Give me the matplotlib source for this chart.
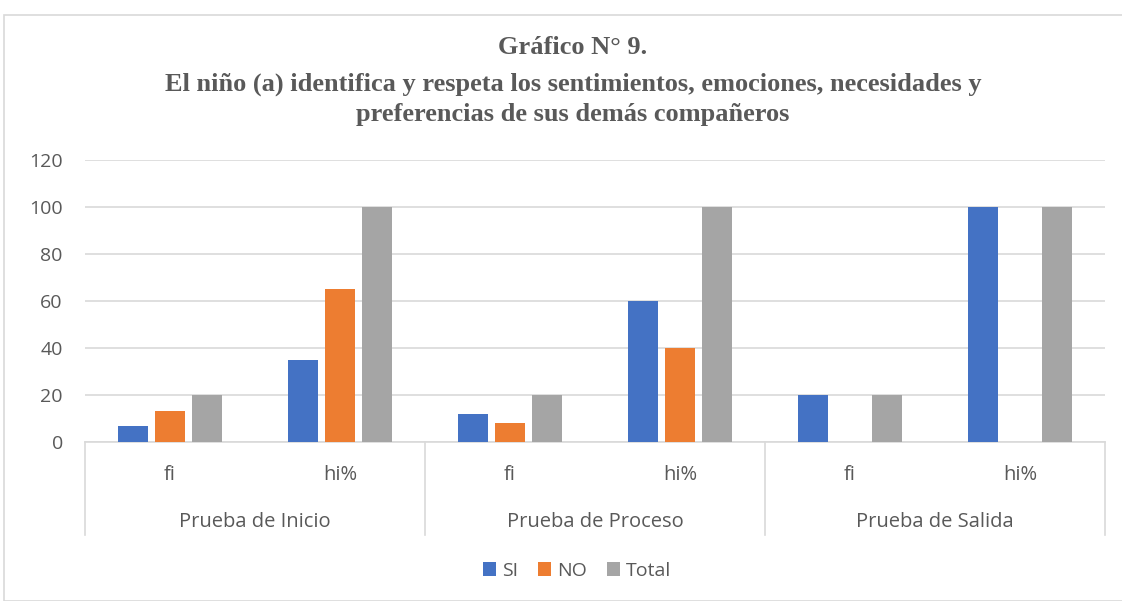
import matplotlib.pyplot as plt
from matplotlib.patches import Rectangle
import numpy as np

groups = ["Prueba de Inicio", "Prueba de Proceso", "Prueba de Salida"]
subcats = ["fi", "hi%"]
series = ["SI", "NO", "Total"]
si = [7, 35, 12, 60, 20, 100]
no = [13, 65, 8, 40, 0, 0]
total = [20, 100, 20, 100, 20, 100]
colors = ["#4472C4", "#ED7D31", "#A5A5A5"]

txt = "#595959"
grid = "#D9D9D9"
font = "Open Sans"
fs = 14.5

fig = plt.figure(figsize=(11.22, 6.01), dpi=100)
fig.patches.append(Rectangle((4 / 1122, 0), 1.0, 1 - 15 / 601, transform=fig.transFigure,
                             fill=False, edgecolor=grid, linewidth=1.2))

ax = fig.add_axes([85 / 1122, 1 - 442 / 601, 1020 / 1122, 282 / 601])
x = np.arange(len(si))
w = 0.176
off = 0.22
for i, (vals, name) in enumerate(zip([si, no, total], series)):
    ax.bar(x + (i - 1) * off, vals, w, color=colors[i], label=name, zorder=3)

ax.set_xlim(-0.5, len(si) - 0.5)
ax.set_ylim(0, 120)
ax.set_yticks(range(0, 121, 20))
ax.yaxis.grid(True, color=grid, linewidth=1.2, zorder=0)
for s in ["top", "right", "left"]:
    ax.spines[s].set_visible(False)
ax.spines["bottom"].set_color(grid)
ax.spines["bottom"].set_linewidth(1.2)
ax.tick_params(axis="y", length=0, labelsize=14, labelcolor=txt, pad=16)
ax.set_xticks([])
for lab in ax.get_yticklabels():
    lab.set_fontfamily(font)

# two-level category axis
for k in range(len(si)):
    ax.text(k, -14, subcats[k % 2], ha="center", va="center", fontsize=fs,
            color=txt, family=font, transform=ax.transData, clip_on=False)
for g, name in enumerate(groups):
    ax.text(2 * g + 0.5, -34, name, ha="center", va="center", fontsize=fs,
            color=txt, family=font, transform=ax.transData, clip_on=False)
for b in range(len(groups) + 1):
    ax.plot([2 * b - 0.5, 2 * b - 0.5], [0, -39.5], color=grid, linewidth=1.2,
            clip_on=False, zorder=1)

leg = fig.legend(loc="center", bbox_to_anchor=(577 / 1122, 1 - 571 / 601), ncol=3,
                 frameon=False, handlelength=0.7, handleheight=0.7,
                 handletextpad=0.3, columnspacing=1.0, prop={"family": font, "size": 14})
for t in leg.get_texts():
    t.set_color(txt)

title_kw = dict(ha="center", va="center", fontsize=19, fontweight="bold",
                family="Liberation Serif", color=txt)
tx = 573 / 1122
fig.text(tx, 1 - 48 / 601, "Gráfico N° 9.", **title_kw)
fig.text(tx, 1 - 84 / 601,
         "El niño (a) identifica y respeta los sentimientos, emociones, necesidades y",
         **title_kw)
fig.text(tx, 1 - 114 / 601, "preferencias de sus demás compañeros", **title_kw)

fig.savefig("out.png", dpi=100)
